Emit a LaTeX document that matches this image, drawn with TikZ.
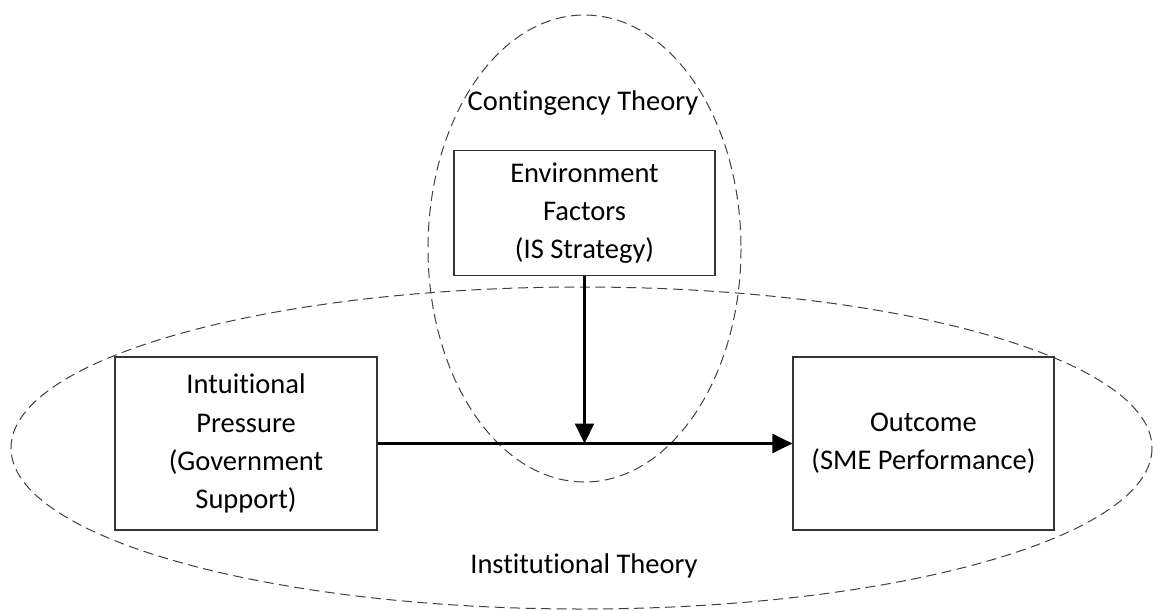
\documentclass[tikz,border=0pt]{standalone}
\usepackage{fontspec}
\setmainfont{Carlito}[Ligatures={NoCommon,NoContextual}]
\usetikzlibrary{arrows.meta}
\begin{document}
\begin{tikzpicture}[x=1pt,y=-1pt,
  boxnode/.style={draw=black!80,line width=1.2pt,align=center,inner sep=0pt,
    font=\fontsize{28.5}{38.2}\selectfont},
  lbl/.style={font=\fontsize{28.5}{38.2}\selectfont,inner sep=0pt},
  theory/.style={draw=black!75,line width=1pt,dash pattern=on 10pt off 5.5pt},
  flow/.style={line width=2.2pt,-{Triangle[length=20pt,width=19pt]}}]
\useasboundingbox (0,0) rectangle (1153,610);
% theory ellipses
\draw[theory] (581.5,448) ellipse [x radius=570.5, y radius=161];
\draw[theory] (584.5,248.5) ellipse [x radius=156.5, y radius=233.5];
% boxes
\node[boxnode,minimum width=261pt,minimum height=125pt] (env) at (584.5,213)
  {Environment\\Factors\\(IS Strategy)};
\node[boxnode,minimum width=262pt,minimum height=173pt] (ip) at (246,443.5)
  {Intuitional\\Pressure\\(Government\\Support)};
\node[boxnode,minimum width=261pt,minimum height=173pt] (out) at (923.5,443.5)
  {Outcome\\(SME Performance)};
% labels
\node[lbl,anchor=base] (ct) at (583,110) {Contingency Theory};
\node[lbl,anchor=base] (it) at (584,573) {Institutional Theory};
% connectors
\coordinate (j) at (env.south |- ip.east);
\draw[flow] (ip.east) -- (out.west);
\draw[flow] (env.south) -- (j);
\end{tikzpicture}
\end{document}
